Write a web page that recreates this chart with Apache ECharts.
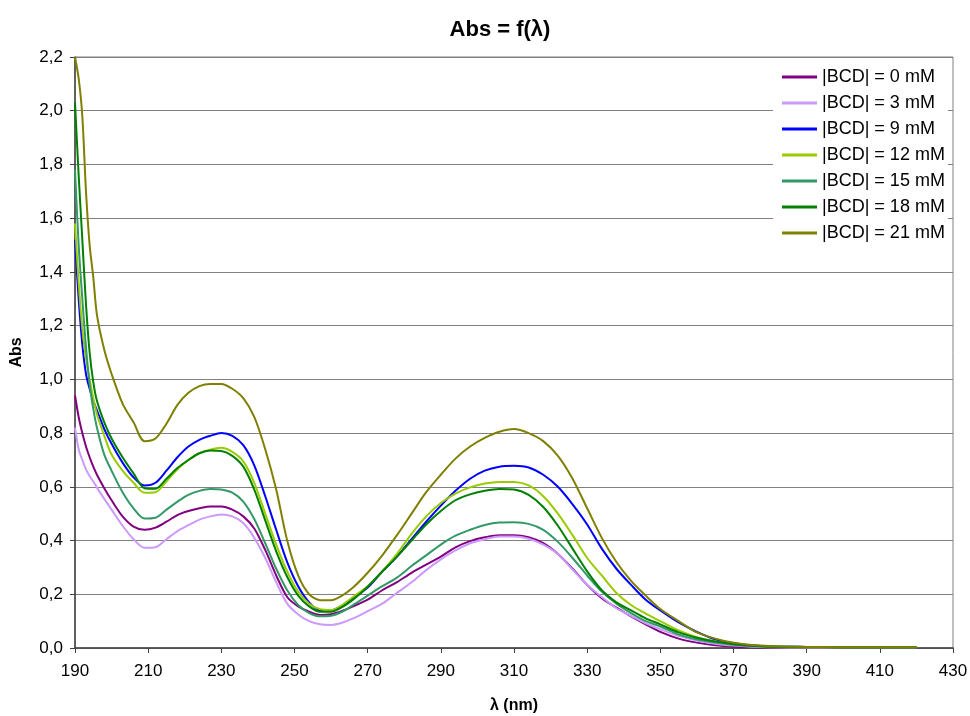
<!DOCTYPE html>
<html>
<head>
<meta charset="utf-8">
<title>Abs = f(λ)</title>
<script src="https://cdn.jsdelivr.net/npm/echarts@6/dist/echarts.min.js"></script>
<style>
    html, body { margin: 0; padding: 0; background: #fff; }
    #chart { width: 970px; height: 716px; }
</style>
</head>
<body>
<div id="chart"></div>
<script>
// 波长（nm）
var wavelengths = [190, 191, 192, 193, 194, 195, 196, 198, 200,
    203, 206, 209, 212, 215, 218, 221, 224, 227, 230, 233, 236, 239, 242, 245, 248, 251, 254, 257, 260,
    263, 266,
    270, 274, 278, 282, 286, 290, 294, 298, 302, 306, 310, 314, 318, 322, 326, 330, 334, 338, 342, 346, 350,
    355, 360, 365, 370, 375, 380,
    390, 400, 410, 420];

// 各浓度的吸光度
var abs0 = [0.94, 0.86, 0.80, 0.75, 0.71, 0.675, 0.645, 0.595, 0.55,
    0.49, 0.452, 0.44, 0.448, 0.47, 0.495, 0.51, 0.52, 0.527, 0.527, 0.515, 0.49, 0.445, 0.365, 0.27, 0.19, 0.155, 0.135, 0.123, 0.126,
    0.138, 0.155,
    0.18, 0.215, 0.245, 0.28, 0.31, 0.34, 0.375, 0.398, 0.412, 0.42, 0.42, 0.412, 0.39, 0.35, 0.295, 0.235, 0.185, 0.15, 0.118, 0.088, 0.06,
    0.035, 0.02, 0.01, 0.005, 0.003, 0.002,
    0.002, 0.002, 0.002, 0.002];
var abs3 = [0.82, 0.74, 0.70, 0.665, 0.64, 0.62, 0.597, 0.555, 0.515,
    0.455, 0.405, 0.373, 0.375, 0.405, 0.435, 0.457, 0.478, 0.49, 0.497, 0.49, 0.465, 0.41, 0.335, 0.245, 0.165, 0.125, 0.10, 0.088, 0.086,
    0.094, 0.11,
    0.137, 0.165, 0.205, 0.245, 0.29, 0.33, 0.363, 0.39, 0.405, 0.415, 0.415, 0.407, 0.385, 0.35, 0.292, 0.235, 0.19, 0.148, 0.12, 0.092, 0.07,
    0.045, 0.028, 0.016, 0.009, 0.005, 0.003,
    0.002, 0.002, 0.002, 0.002];
var abs9 = [1.52, 1.30, 1.13, 1.02, 0.965, 0.92, 0.885, 0.815, 0.76,
    0.69, 0.635, 0.605, 0.615, 0.66, 0.71, 0.75, 0.775, 0.79, 0.80, 0.79, 0.755, 0.68, 0.565, 0.44, 0.32, 0.23, 0.17, 0.14, 0.14,
    0.158, 0.185,
    0.225, 0.285, 0.34, 0.405, 0.47, 0.53, 0.585, 0.63, 0.66, 0.675, 0.678, 0.672, 0.645, 0.60, 0.535, 0.46, 0.37, 0.295, 0.235, 0.18, 0.14,
    0.095, 0.06, 0.032, 0.018, 0.01, 0.006,
    0.004, 0.003, 0.003, 0.003];
var abs12 = [1.58, 1.36, 1.19, 1.08, 1.0, 0.93, 0.87, 0.79, 0.72,
    0.66, 0.615, 0.578, 0.58, 0.62, 0.665, 0.70, 0.725, 0.738, 0.745, 0.73, 0.695, 0.615, 0.50, 0.385, 0.285, 0.21, 0.165, 0.144, 0.141,
    0.16, 0.19,
    0.23, 0.285, 0.35, 0.425, 0.49, 0.54, 0.575, 0.598, 0.612, 0.618, 0.618, 0.605, 0.565, 0.50, 0.42, 0.335, 0.27, 0.205, 0.16, 0.128, 0.10,
    0.065, 0.04, 0.024, 0.014, 0.008, 0.005,
    0.003, 0.003, 0.003, 0.003];
var abs15 = [1.78, 1.50, 1.30, 1.12, 0.98, 0.89, 0.82, 0.72, 0.66,
    0.58, 0.52, 0.482, 0.485, 0.515, 0.545, 0.57, 0.585, 0.592, 0.59, 0.578, 0.545, 0.48, 0.39, 0.295, 0.215, 0.16, 0.13, 0.118, 0.12,
    0.135, 0.16,
    0.195, 0.23, 0.262, 0.305, 0.345, 0.385, 0.418, 0.44, 0.458, 0.467, 0.468, 0.462, 0.44, 0.395, 0.335, 0.27, 0.21, 0.165, 0.13, 0.10, 0.08,
    0.05, 0.032, 0.02, 0.012, 0.007, 0.005,
    0.003, 0.003, 0.003, 0.003];
var abs18 = [2.03, 1.76, 1.52, 1.28, 1.10, 0.99, 0.92, 0.84, 0.78,
    0.71, 0.65, 0.595, 0.593, 0.63, 0.67, 0.70, 0.725, 0.735, 0.733, 0.715, 0.675, 0.59, 0.475, 0.36, 0.265, 0.195, 0.155, 0.135, 0.135,
    0.152, 0.18,
    0.228, 0.285, 0.34, 0.40, 0.46, 0.51, 0.55, 0.572, 0.585, 0.592, 0.59, 0.57, 0.525, 0.455, 0.37, 0.285, 0.215, 0.17, 0.14, 0.11, 0.088,
    0.058, 0.038, 0.024, 0.015, 0.008, 0.005,
    0.004, 0.003, 0.003, 0.003];
var abs21 = [2.20, 2.12, 1.98, 1.70, 1.50, 1.38, 1.24, 1.11, 1.02,
    0.91, 0.84, 0.77, 0.78, 0.835, 0.905, 0.95, 0.975, 0.983, 0.983, 0.965, 0.93, 0.86, 0.74, 0.59, 0.40, 0.27, 0.20, 0.178, 0.178,
    0.195, 0.225,
    0.28, 0.345, 0.42, 0.50, 0.58, 0.645, 0.705, 0.75, 0.782, 0.805, 0.815, 0.80, 0.77, 0.715, 0.63, 0.52, 0.41, 0.32, 0.25, 0.195, 0.145,
    0.10, 0.058, 0.035, 0.02, 0.011, 0.007,
    0.004, 0.003, 0.003, 0.003];

// 图例名称和颜色
var seriesNames = ['|BCD| = 0 mM', '|BCD| = 3 mM', '|BCD| = 9 mM', '|BCD| = 12 mM',
    '|BCD| = 15 mM', '|BCD| = 18 mM', '|BCD| = 21 mM'];
var seriesColors = ['#800080', '#cc99ff', '#0000ff', '#99cc00', '#339966', '#008000', '#808000'];
var seriesValues = [abs0, abs3, abs9, abs12, abs15, abs18, abs21];

(function () {
    var font = 'Liberation Sans, Arial, sans-serif';

    // 小数点用逗号
    function 格式化(v) {
        return v.toFixed(1).replace('.', ',');
    }

    var series = seriesValues.map(function (values, i) {
        return {
            name: seriesNames[i],
            type: 'line',
            symbol: 'none',
            smooth: 0.3,
            lineStyle: { width: 2, color: seriesColors[i] },
            itemStyle: { color: seriesColors[i] },
            data: wavelengths.map(function (w, j) { return [w, values[j]]; })
        };
    });

    var option = {
        animation: false,
        backgroundColor: '#fff',
        title: {
            text: 'Abs = f(λ)',
            left: 495,
            textAlign: 'center',
            top: 14,
            textStyle: { fontFamily: font, fontSize: 22, fontWeight: 'bold', color: '#000' }
        },
        legend: {
            orient: 'vertical',
            left: 773,
            top: 62,
            padding: [6, 3, 6, 9],
            icon: 'rect',
            itemWidth: 35,
            itemHeight: 3,
            itemGap: 8,
            backgroundColor: '#fff',
            textStyle: { fontFamily: font, fontSize: 18, color: '#000' },
            data: seriesNames
        },
        grid: {
            left: 75,
            right: 17,
            top: 57,
            bottom: 68,
            outerBoundsMode: 'none',
            show: true,
            borderColor: '#808080',
            borderWidth: 1
        },
        xAxis: {
            type: 'value',
            min: 190,
            max: 430,
            interval: 20,
            name: 'λ (nm)',
            nameLocation: 'middle',
            nameGap: 50,
            nameTextStyle: { fontFamily: font, fontSize: 16, fontWeight: 'bold', color: '#000' },
            axisLine: { lineStyle: { color: '#404040', width: 1.5 } },
            axisTick: { inside: false, length: 5, lineStyle: { color: '#404040' } },
            axisLabel: { fontFamily: font, fontSize: 17, color: '#000', margin: 15 },
            splitLine: { show: false }
        },
        yAxis: {
            type: 'value',
            min: 0,
            max: 2.2,
            interval: 0.2,
            name: 'Abs',
            nameLocation: 'middle',
            nameGap: 50,
            nameRotate: 90,
            nameTextStyle: { fontFamily: font, fontSize: 16, fontWeight: 'bold', color: '#000' },
            axisLine: { show: true, lineStyle: { color: '#404040', width: 1.5 } },
            axisTick: { show: true, inside: false, length: 5, lineStyle: { color: '#404040' } },
            axisLabel: { fontFamily: font, fontSize: 17, color: '#000', margin: 12, formatter: 格式化 },
            splitLine: { lineStyle: { color: '#808080', width: 1 } }
        },
        series: series
    };

    var myechart = echarts.init(document.getElementById('chart'));
    myechart.setOption(option);

    // 窗口变化时调整图表
    window.addEventListener('resize', function () {
        myechart.resize();
    });
})();
</script>
</body>
</html>
